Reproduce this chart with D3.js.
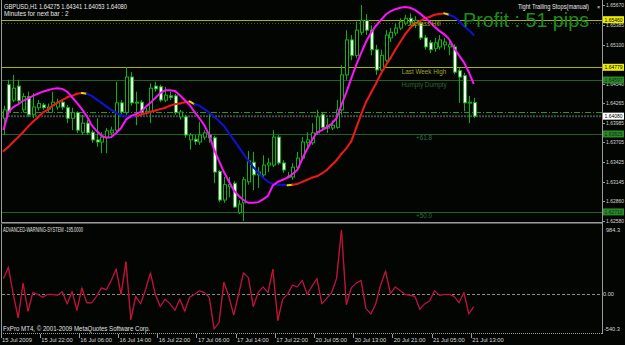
<!DOCTYPE html>
<html>
<head>
<meta charset="utf-8">
<script src="https://cdn.jsdelivr.net/npm/d3@7"></script>
<style>
  body { margin: 0; background: #000; }
  text { font-family: "Liberation Sans", Arial, sans-serif; }
</style>
</head>
<body>
<div id="chart"></div>
<script>
// GBPUSD H1, 15 Jul 2009 14:00 .. 21 Jul 2009 13:00
const symbolName = "GBPUSD,H1";
const timeLabels = ["15 Jul 2009", "15 Jul 22:00", "16 Jul 06:00", "16 Jul 14:00", "16 Jul 22:00",
  "17 Jul 06:00", "17 Jul 14:00", "17 Jul 22:00", "20 Jul 05:00", "20 Jul 13:00",
  "20 Jul 21:00", "21 Jul 05:00", "21 Jul 13:00"];
const timeLabelStep = 8;

const barOpen = [1.6405, 1.6453, 1.6431, 1.6451, 1.6417, 1.6436, 1.6410, 1.6420, 1.6424, 1.6418,
  1.6423, 1.6421, 1.6428, 1.6420, 1.6405, 1.6413, 1.6385, 1.6398, 1.6385, 1.6374,
  1.6371, 1.6378, 1.6384, 1.6388, 1.6427, 1.6413, 1.6464, 1.6427, 1.6428, 1.6413,
  1.6415, 1.6451, 1.6450, 1.6431, 1.6437, 1.6437, 1.6407, 1.6407, 1.6374, 1.6375,
  1.6371, 1.6378, 1.6381, 1.6377, 1.6329, 1.6288, 1.6307, 1.6312, 1.6270, 1.6284,
  1.6314, 1.6342, 1.6324, 1.6324, 1.6338, 1.6338, 1.6378, 1.6341, 1.6321, 1.6321,
  1.6335, 1.6348, 1.6370, 1.6370, 1.6384, 1.6410, 1.6391, 1.6391, 1.6392, 1.6417,
  1.6467, 1.6517, 1.6495, 1.6528, 1.6545, 1.6531, 1.6503, 1.6474, 1.6488, 1.6520,
  1.6527, 1.6534, 1.6541, 1.6548, 1.6541, 1.6541, 1.6520, 1.6513, 1.6505, 1.6507,
  1.6510, 1.6507, 1.6507, 1.6473, 1.6466, 1.6427, 1.64275];
const barHigh = [1.6423, 1.6460, 1.6467, 1.6460, 1.6441, 1.6443, 1.6441, 1.6431, 1.6427, 1.6426,
  1.6443, 1.6433, 1.6431, 1.6424, 1.6420, 1.6415, 1.6410, 1.6403, 1.6388, 1.6405,
  1.6385, 1.6391, 1.6393, 1.6457, 1.6431, 1.6478, 1.6471, 1.6443, 1.6431, 1.6420,
  1.6455, 1.6457, 1.6453, 1.6450, 1.6443, 1.6440, 1.6417, 1.6410, 1.6384, 1.6381,
  1.6400, 1.6388, 1.6413, 1.6380, 1.6331, 1.6321, 1.6321, 1.6315, 1.6288, 1.6321,
  1.6358, 1.6357, 1.6335, 1.6352, 1.6348, 1.6388, 1.6381, 1.6345, 1.6328, 1.6341,
  1.6357, 1.6378, 1.6385, 1.6398, 1.6417, 1.6414, 1.6405, 1.6402, 1.6431, 1.6481,
  1.6531, 1.6524, 1.6543, 1.6567, 1.6554, 1.6538, 1.6510, 1.6503, 1.6531, 1.6534,
  1.6540, 1.6548, 1.6553, 1.6555, 1.6551, 1.6545, 1.6524, 1.6517, 1.6520, 1.6524,
  1.6520, 1.6517, 1.6511, 1.6477, 1.6470, 1.6437, 1.64341];
const barLow = [1.6381, 1.6411, 1.6428, 1.6426, 1.6413, 1.6407, 1.6405, 1.6416, 1.6417, 1.6414,
  1.6413, 1.6417, 1.6417, 1.6398, 1.6388, 1.6384, 1.6381, 1.6381, 1.6370, 1.6364,
  1.6355, 1.6355, 1.6380, 1.6385, 1.6410, 1.6410, 1.6423, 1.6395, 1.6408, 1.6410,
  1.6398, 1.6443, 1.6428, 1.6428, 1.6431, 1.6410, 1.6403, 1.6377, 1.6360, 1.6367,
  1.6367, 1.6374, 1.6370, 1.6312, 1.6285, 1.6284, 1.6292, 1.6277, 1.6268, 1.6258,
  1.6310, 1.6302, 1.6305, 1.6319, 1.6328, 1.6335, 1.6338, 1.6327, 1.6319, 1.6317,
  1.6331, 1.6345, 1.6364, 1.6367, 1.6381, 1.6388, 1.6384, 1.6388, 1.6390, 1.6410,
  1.6460, 1.6488, 1.6491, 1.6524, 1.6524, 1.6495, 1.6467, 1.6470, 1.6485, 1.6514,
  1.6523, 1.6531, 1.6538, 1.6538, 1.6534, 1.6517, 1.6503, 1.6498, 1.6500, 1.6503,
  1.6503, 1.6495, 1.6468, 1.6427, 1.6415, 1.6398, 1.64053];
const barClose = [1.6417, 1.6414, 1.6448, 1.6430, 1.6436, 1.6410, 1.6421, 1.6426, 1.6420, 1.6421,
  1.6428, 1.6428, 1.6421, 1.6405, 1.6413, 1.6388, 1.6398, 1.6384, 1.6374, 1.6371,
  1.6378, 1.6387, 1.6388, 1.6427, 1.6414, 1.6464, 1.6427, 1.6428, 1.6413, 1.6415,
  1.6448, 1.6447, 1.6431, 1.6438, 1.6435, 1.6413, 1.6414, 1.6381, 1.6381, 1.6372,
  1.6381, 1.6384, 1.6377, 1.6328, 1.6288, 1.6310, 1.6310, 1.6278, 1.6282, 1.6317,
  1.6344, 1.6324, 1.6328, 1.6338, 1.6341, 1.6378, 1.6341, 1.6331, 1.6322, 1.6335,
  1.6348, 1.6371, 1.6374, 1.6384, 1.6407, 1.6392, 1.6395, 1.6395, 1.6417, 1.6467,
  1.6517, 1.6495, 1.6531, 1.6545, 1.6531, 1.6503, 1.6474, 1.6495, 1.6524, 1.6528,
  1.6534, 1.6543, 1.6548, 1.6543, 1.6545, 1.6520, 1.6507, 1.6503, 1.6513, 1.6517,
  1.6514, 1.6510, 1.6471, 1.6464, 1.6427, 1.6428, 1.64080];

// fast moving average (magenta)
const fastMa = [1.6388, 1.6414, 1.6421, 1.6425, 1.6430, 1.6433, 1.6437, 1.6440, 1.6443, 1.6445,
  1.6447, 1.6448, 1.6447, 1.6443, 1.6435, 1.6427, 1.6418, 1.6408, 1.6395, 1.6387,
  1.6380, 1.6377, 1.6378, 1.6384, 1.6391, 1.6403, 1.6408, 1.6411, 1.6414, 1.6421,
  1.6427, 1.6434, 1.6441, 1.6445, 1.6445, 1.6444, 1.6438, 1.6431, 1.6424, 1.6414,
  1.6405, 1.6395, 1.6381, 1.6360, 1.6344, 1.6328, 1.6315, 1.6302, 1.6294, 1.6288,
  1.6284, 1.6284, 1.6285, 1.6289, 1.6294, 1.6309, 1.6314, 1.6317, 1.6320, 1.6325,
  1.6331, 1.6347, 1.6361, 1.6374, 1.6385, 1.6388, 1.6392, 1.6397, 1.6405, 1.6424,
  1.6442, 1.6462, 1.6481, 1.6498, 1.6514, 1.6527, 1.6537, 1.6545, 1.6553, 1.6558,
  1.6561, 1.6563, 1.6564, 1.6563, 1.6560, 1.6555, 1.6549, 1.6543, 1.6536, 1.6530,
  1.6525, 1.6518, 1.6505, 1.6495, 1.6485, 1.6471, 1.6454];

// slow moving average and its trend state (1 up, -1 down, 0 turning)
const slowMa = [1.6358, 1.6364, 1.6371, 1.6378, 1.6385, 1.6393, 1.6400, 1.6406, 1.6413, 1.6417,
  1.6423, 1.6427, 1.6431, 1.6435, 1.6437, 1.6440, 1.6441, 1.6440, 1.6437, 1.6432,
  1.6427, 1.6422, 1.6417, 1.6413, 1.6409, 1.6408, 1.6407, 1.6408, 1.6410, 1.6412,
  1.6414, 1.6416, 1.6418, 1.6420, 1.6423, 1.6425, 1.6426, 1.6428, 1.6429, 1.6425,
  1.6423, 1.6418, 1.6413, 1.6407, 1.6401, 1.6394, 1.6384, 1.6374, 1.6364, 1.6354,
  1.6344, 1.6335, 1.6327, 1.6320, 1.6314, 1.6311, 1.6310, 1.6310, 1.6309, 1.6310,
  1.6311, 1.6314, 1.6317, 1.6320, 1.6322, 1.6326, 1.6331, 1.6338, 1.6345, 1.6354,
  1.6362, 1.6372, 1.6391, 1.6410, 1.6428, 1.6441, 1.6454, 1.6468, 1.6480, 1.6491,
  1.6503, 1.6514, 1.6525, 1.6534, 1.6540, 1.6544, 1.6548, 1.6550, 1.6553, 1.6554,
  1.6555, 1.6553, 1.6550, 1.6544, 1.6537, 1.6531, 1.6524];
const slowMaTrend = [1, 1, 1, 1, 1, 1, 1, 1, 1, 1, 1, 1, 1, 1, 1, 1, 1, 0, -1, -1,
  -1, -1, -1, -1, -1, -1, -1, -1, 1, 1, 1, 1, 1, 1, 1, 1, 1, 1, 1, 0,
  -1, -1, -1, -1, -1, -1, -1, -1, -1, -1, -1, -1, -1, -1, -1, -1, -1, -1, -1, 0,
  1, 1, 1, 1, 1, 1, 1, 1, 1, 1, 1, 1, 1, 1, 1, 1, 1, 1, 1, 1,
  1, 1, 1, 1, 1, 1, 1, 1, 1, 1, 1, 0, -1, -1, -1, -1, -1];

// ADVANCED-WARNING-SYSTEM oscillator
const oscName = "ADVANCED-WARNING-SYSTEM";
const oscValues = [236, 409, -8, -368, 164, -267, 21, -8, -51, -8,
  -8, -22, 35, -152, 35, -253, 92, -138, -138, -37,
  92, 64, 208, 380, -8, 495, -397, -37, -152, 64,
  323, -8, -195, -80, -152, -253, -80, -267, -51, -8,
  49, 21, -51, -540.3, -440, 179, -37, -325, -8, 323,
  251, -195, 21, 107, 21, 380, -411, -80, -8, 136,
  107, 208, -8, 121, 236, -152, -66, 21, 236, 984.3,
  -166, 92, 164, 208, -224, -310, -152, 136, 351, 6,
  107, 49, -8, -22, -37, -238, -152, -109, 49, -22,
  -8, -8, -37, -138, 21, -310, -195];
const oscTicks = [984.3, 0, -540.3];

const priceTicks = [1.65670, 1.65385, 1.65100, 1.64820, 1.64540, 1.64265, 1.63985,
  1.63705, 1.63425, 1.63145, 1.62860, 1.62580];

// named horizontal levels
const levelNames = ["Jackass Hill", "Last Week High", "Humpty Dumpty", "+61.8", "+50.0"];
const levelPrices = [1.65460, 1.64779, 1.64597, 1.63825, 1.62710];
const stopLevel = 1.65417;
const entryLevel = 1.64140;
const profitPips = 51;

const W = 625, H = 345;
const plotLeft = 2, plotRight = 602;
const mainTop = 0, mainBottom = 222;
const subTop = 224, subBottom = 333;

const svg = d3.select("#chart").append("svg")
  .attr("width", W).attr("height", H);

svg.append("rect").attr("width", W).attr("height", H).attr("fill", "#030503");

const n = barClose.length;
const x = d3.scaleLinear().domain([0, n - 1]).range([3.5, 473.7]);
const y = d3.scaleLinear().domain([1.62580, 1.65670]).range([221, 5]);
const yOsc = d3.scaleLinear().domain([-540.3, 984.3]).range([329, 230]);
const px = v => Math.round(v) + 0.5;

svg.append("clipPath").attr("id", "mainClip").append("rect")
  .attr("x", plotLeft).attr("y", mainTop).attr("width", plotRight - plotLeft).attr("height", mainBottom - mainTop);
svg.append("clipPath").attr("id", "subClip").append("rect")
  .attr("x", plotLeft).attr("y", subTop).attr("width", plotRight - plotLeft).attr("height", subBottom - subTop);

const main = svg.append("g").attr("clip-path", "url(#mainClip)");
const sub = svg.append("g").attr("clip-path", "url(#subClip)");

// level lines
const levelStyle = {
  "Jackass Hill": { stroke: "#b0b000", text: "#a0a02c", box: "#ecec00", boxText: "#000" },
  "Last Week High": { stroke: "#b0b000", text: "#a0a02c", box: "#ecec00", boxText: "#000" },
  "Humpty Dumpty": { stroke: "#236023", text: "#2c6a2c", box: "#2a8a2a", boxText: "#0a300a" },
  "+61.8": { stroke: "#236023", text: "#2f6f48", box: "#2a8a2a", boxText: "#0a300a" },
  "+50.0": { stroke: "#236023", text: "#2f6f48", box: "#2a8a2a", boxText: "#0a300a" }
};
const levels = levelNames.map((name, i) => ({ name, price: levelPrices[i] }));

main.selectAll("line.level").data(levels).join("line")
  .attr("class", "level")
  .attr("x1", plotLeft).attr("x2", plotRight)
  .attr("y1", d => px(y(d.price))).attr("y2", d => px(y(d.price)))
  .attr("stroke", d => levelStyle[d.name].stroke).attr("stroke-width", 1);

main.append("line")
  .attr("x1", plotLeft).attr("x2", plotRight)
  .attr("y1", px(y(stopLevel))).attr("y2", px(y(stopLevel)))
  .attr("stroke", "#1f6a1f").attr("stroke-dasharray", "1,2");

main.append("line")
  .attr("x1", plotLeft).attr("x2", plotRight)
  .attr("y1", px(y(entryLevel))).attr("y2", px(y(entryLevel)))
  .attr("stroke", "#1e9a1e").attr("stroke-dasharray", "6,2,1,2");

const bid = barClose[n - 1];
main.append("line")
  .attr("x1", plotLeft).attr("x2", plotRight)
  .attr("y1", y(bid)).attr("y2", y(bid))
  .attr("stroke", "#4a4a4a").attr("stroke-width", 2).attr("stroke-dasharray", "2,1");

// candles
const bars = d3.range(n).map(i => ({ i, o: barOpen[i], h: barHigh[i], l: barLow[i], c: barClose[i] }));
main.selectAll("line.wick").data(bars).join("line")
  .attr("class", "wick")
  .attr("x1", d => px(x(d.i))).attr("x2", d => px(x(d.i)))
  .attr("y1", d => y(d.h)).attr("y2", d => y(d.l))
  .attr("stroke", "#10b010").attr("stroke-width", 1);

main.selectAll("rect.body").data(bars).join("rect")
  .attr("class", "body")
  .attr("x", d => Math.round(x(d.i)) - 0.5)
  .attr("width", 3)
  .attr("y", d => y(Math.max(d.o, d.c)))
  .attr("height", d => Math.max(1, Math.abs(y(d.o) - y(d.c))))
  .attr("fill", d => d.c >= d.o ? "#000" : "#fff")
  .attr("stroke", "#10b010").attr("stroke-width", 1);

// slow MA, coloured by trend
const slowSegs = d3.range(1, n).map(i => ({ a: i - 1, b: i, t: slowMaTrend[i] }));
const trendColor = t => t > 0 ? "#f01818" : (t < 0 ? "#1010d0" : "#e8d800");
main.selectAll("line.slow").data(slowSegs).join("line")
  .attr("class", "slow")
  .attr("x1", d => x(d.a)).attr("y1", d => y(slowMa[d.a]))
  .attr("x2", d => x(d.b)).attr("y2", d => y(slowMa[d.b]))
  .attr("stroke", d => trendColor(d.t)).attr("stroke-width", 2)
  .attr("stroke-linecap", "round");

// fast MA
main.append("path")
  .datum(fastMa)
  .attr("d", d3.line().x((d, i) => x(i)).y(d => y(d)))
  .attr("fill", "none").attr("stroke", "#ff10ff").attr("stroke-width", 2);

// level names sit on top of the price action
main.selectAll("text.level").data(levels).join("text")
  .attr("class", "level")
  .attr("x", 424).attr("y", d => y(d.price) + 6.5)
  .attr("text-anchor", "middle")
  .attr("font-size", 6.3)
  .attr("fill", d => levelStyle[d.name].text)
  .text(d => d.name);

// header texts
svg.append("text").attr("x", 4).attr("y", 9).attr("font-size", 6.3).attr("fill", "#e8e8e8")
  .attr("textLength", 123).attr("lengthAdjust", "spacingAndGlyphs")
  .text(`${symbolName}  ${barOpen[n - 1].toFixed(5)} ${barHigh[n - 1].toFixed(5)} ${barLow[n - 1].toFixed(5)} ${barClose[n - 1].toFixed(5)}`);
svg.append("text").attr("x", 4).attr("y", 16).attr("font-size", 6.3).attr("fill", "#e8e8e8")
  .text("Minutes for next bar : 2");
svg.append("text").attr("x", 518).attr("y", 9).attr("font-size", 6.3).attr("fill", "#e8e8e8")
  .attr("textLength", 71).attr("lengthAdjust", "spacingAndGlyphs")
  .text("Tight Trailing Stops(manual)");
svg.append("text").attr("x", 597).attr("y", 9).attr("font-size", 5.5).attr("fill", "#e8e8e8").text("×");
svg.append("text").attr("x", 463).attr("y", 27).attr("font-size", 19.5).attr("fill", "#1e8c1e")
  .attr("textLength", 126).attr("lengthAdjust", "spacingAndGlyphs")
  .text(`Profit : ${profitPips} pips`);

// oscillator
sub.append("line")
  .attr("x1", plotLeft).attr("x2", plotRight)
  .attr("y1", px(yOsc(0))).attr("y2", px(yOsc(0)))
  .attr("stroke", "#8a8a8a").attr("stroke-dasharray", "3,2");
const oscLine = d3.line().x((d, i) => x(i)).y(d => yOsc(d));
sub.append("path").datum(oscValues).attr("d", oscLine)
  .attr("fill", "none").attr("stroke", "#4a1070").attr("stroke-width", 1.4);
sub.append("path").datum(oscValues).attr("d", oscLine)
  .attr("fill", "none").attr("stroke", "#e01010").attr("stroke-width", 1);

svg.append("text").attr("x", 3).attr("y", 232).attr("font-size", 6.3).attr("fill", "#e0e0e0")
  .attr("textLength", 80).attr("lengthAdjust", "spacingAndGlyphs")
  .text(`${oscName} ${oscValues[n - 1].toFixed(4)}`);
svg.append("text").attr("x", 3).attr("y", 331).attr("font-size", 6.3).attr("fill", "#e0e0e0")
  .attr("textLength", 147).attr("lengthAdjust", "spacingAndGlyphs")
  .text("FxPro MT4, © 2001-2009 MetaQuotes Software Corp.");

// frame
const frame = svg.append("g").attr("stroke", "#9a9a9a").attr("stroke-width", 1);
frame.append("line").attr("x1", 1.5).attr("x2", 1.5).attr("y1", 0).attr("y2", subBottom);
frame.append("line").attr("x1", plotRight + 0.5).attr("x2", plotRight + 0.5).attr("y1", 0).attr("y2", subBottom + 1);
frame.append("line").attr("x1", 1).attr("x2", plotRight).attr("y1", mainBottom + 0.5).attr("y2", mainBottom + 0.5);
frame.append("line").attr("x1", 1).attr("x2", plotRight).attr("y1", subTop - 0.5).attr("y2", subTop - 0.5).attr("stroke", "#555");
frame.append("line").attr("x1", 1).attr("x2", plotRight).attr("y1", subBottom + 0.5).attr("y2", subBottom + 0.5)
  .attr("stroke-dasharray", "1,1");

// price axis; ticks hidden behind a coloured level label are skipped
const axisG = svg.append("g");
const boxPrices = levelPrices.concat([bid]);
const visibleTicks = priceTicks.filter(p => boxPrices.every(b => Math.abs(y(p) - y(b)) > 3.2));
axisG.selectAll("line.ptick").data(priceTicks).join("line")
  .attr("class", "ptick")
  .attr("x1", plotRight).attr("x2", plotRight + 3)
  .attr("y1", d => px(y(d))).attr("y2", d => px(y(d)))
  .attr("stroke", "#9a9a9a");
axisG.selectAll("text.ptick").data(visibleTicks).join("text")
  .attr("class", "ptick")
  .attr("x", 606).attr("y", d => y(d) + 2)
  .attr("font-size", 5.6).attr("fill", "#d8d8d8")
  .attr("textLength", 18).attr("lengthAdjust", "spacingAndGlyphs")
  .text(d => d.toFixed(5));

const boxLabel = (price, fill, textFill) => {
  const g = axisG.append("g");
  g.append("rect").attr("x", 603).attr("y", y(price) - 3.5).attr("width", 21).attr("height", 7).attr("fill", fill);
  g.append("text").attr("x", 604.5).attr("y", y(price) + 2).attr("font-size", 5.6).attr("fill", textFill)
    .attr("textLength", 18).attr("lengthAdjust", "spacingAndGlyphs")
    .text(price.toFixed(5));
};
levels.forEach(d => boxLabel(d.price, levelStyle[d.name].box, levelStyle[d.name].boxText));
boxLabel(bid, "#ffffff", "#000");

// oscillator axis
axisG.selectAll("text.otick").data(oscTicks).join("text")
  .attr("class", "otick")
  .attr("x", d => d < 0 ? 604 : (d === 0 ? 603 : 606)).attr("y", d => yOsc(d) + 2)
  .attr("font-size", 5.6).attr("fill", "#d8d8d8")
  .text(d => d === 0 ? "0.00" : d.toFixed(1));

// time axis
const timeIdx = timeLabels.map((t, k) => ({ t, i: k * timeLabelStep }));
axisG.selectAll("line.ttick").data(timeIdx).join("line")
  .attr("class", "ttick")
  .attr("x1", d => px(x(d.i) - 3)).attr("x2", d => px(x(d.i) - 3))
  .attr("y1", subBottom + 1).attr("y2", subBottom + 5)
  .attr("stroke", "#9a9a9a");
axisG.selectAll("text.ttick").data(timeIdx).join("text")
  .attr("class", "ttick")
  .attr("x", d => x(d.i) - 1.5).attr("y", 342)
  .attr("font-size", 5.8).attr("fill", "#d8d8d8")
  .text(d => d.t);
</script>
</body>
</html>
